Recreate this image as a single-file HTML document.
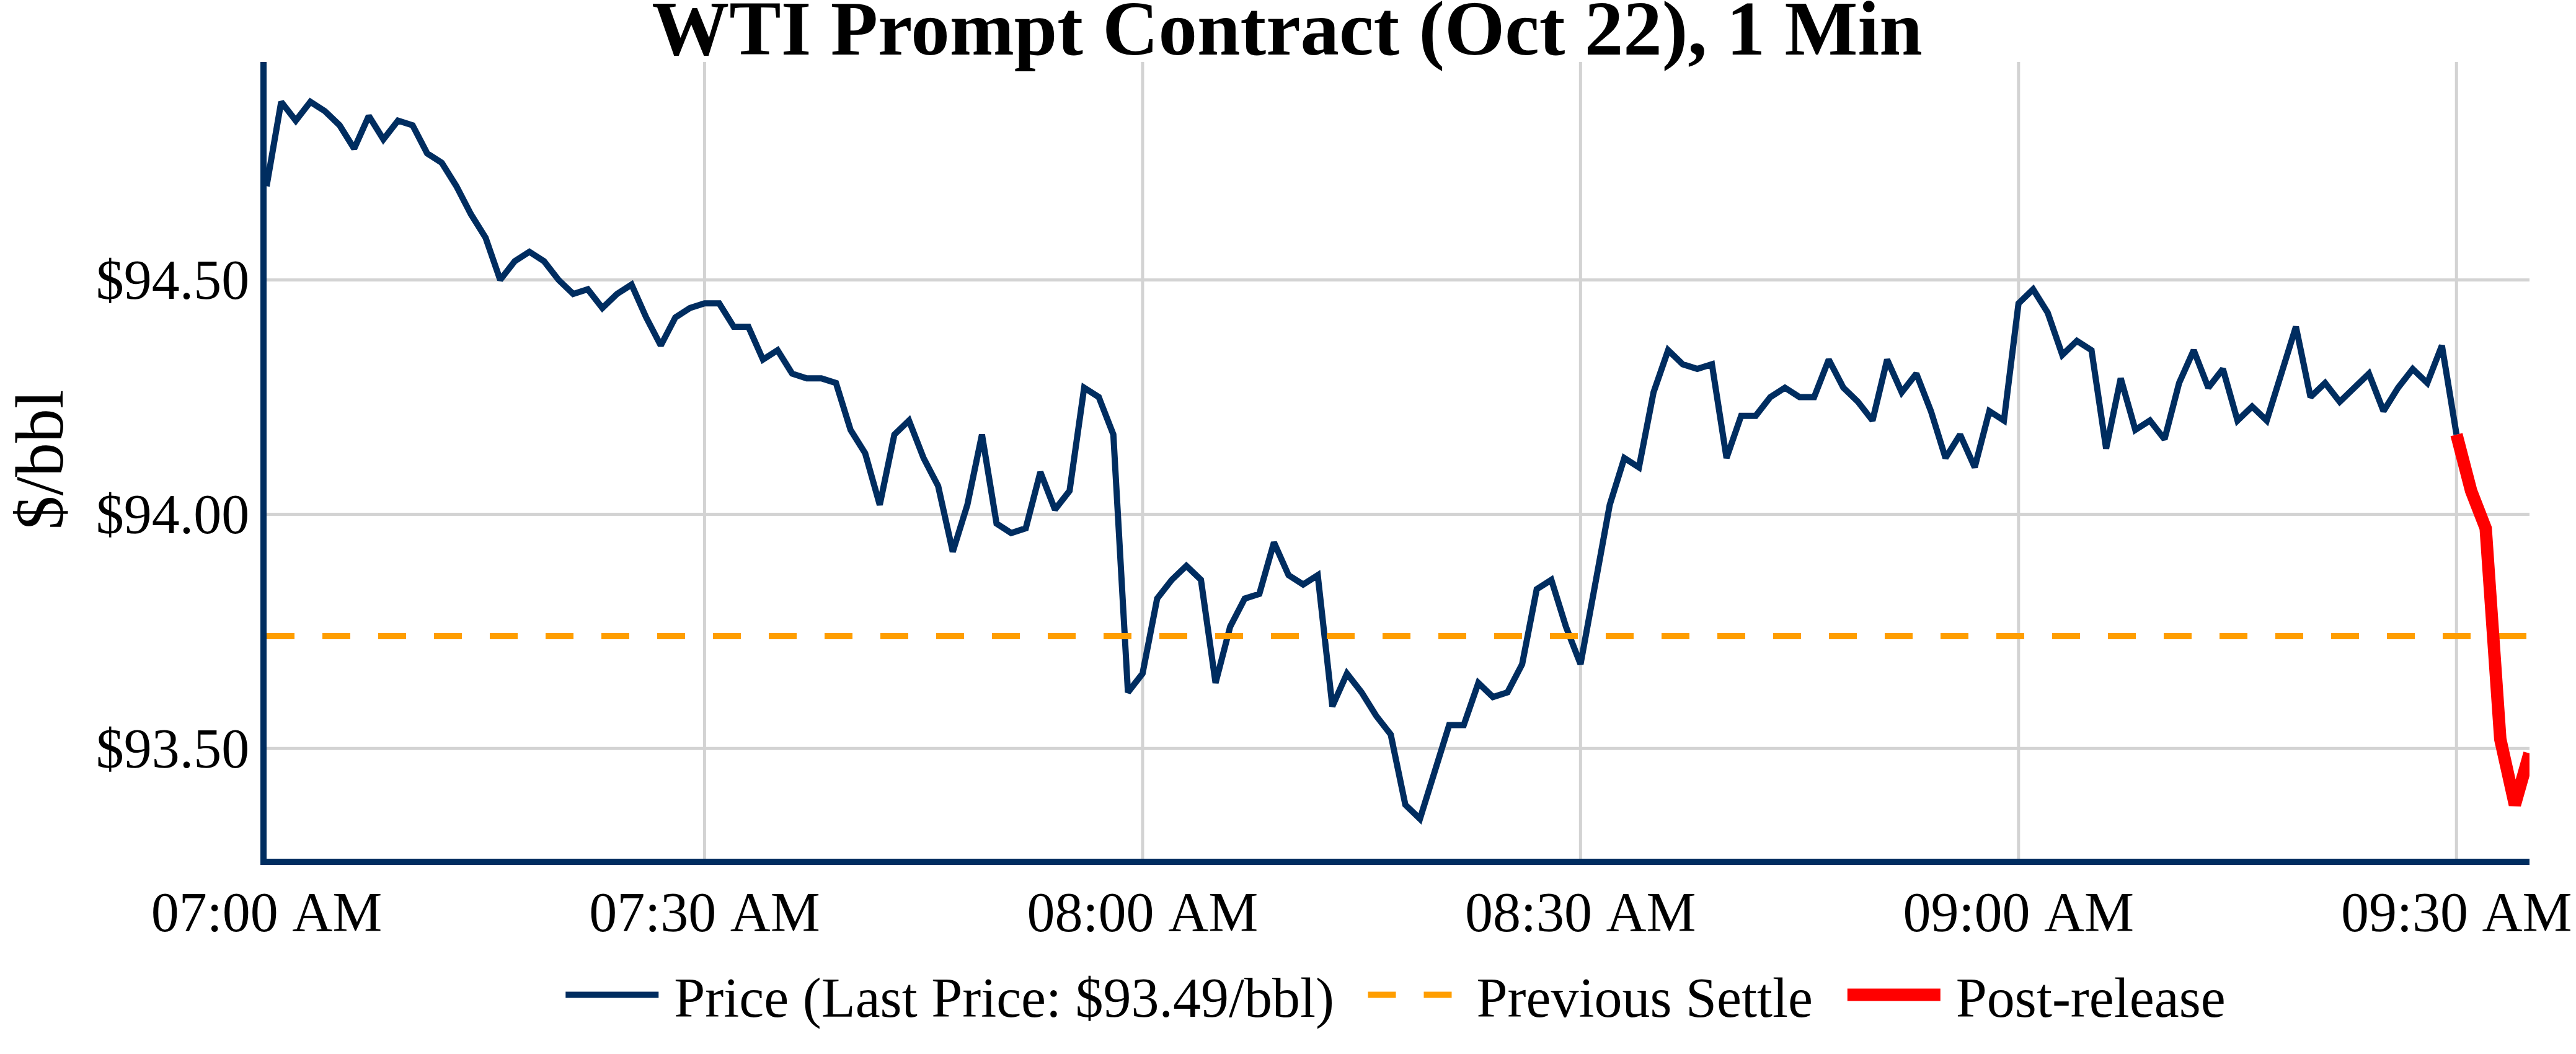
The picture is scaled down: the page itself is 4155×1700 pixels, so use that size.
<!DOCTYPE html>
<html><head><meta charset="utf-8"><style>
html,body{margin:0;padding:0;background:#fff;}
svg{display:block;}
text{font-family:"Liberation Serif","Times New Roman",serif;fill:#000;}
</style></head><body>
<svg width="4155" height="1700" viewBox="0 0 4155 1700" xmlns="http://www.w3.org/2000/svg">
<rect width="4155" height="1700" fill="#fff"/>
<defs><clipPath id="pc"><rect x="430" y="100" width="3650" height="1285"/></clipPath></defs>
<g stroke="#D3D3D3" stroke-width="5" fill="none">
<line x1="1136.45" y1="100" x2="1136.45" y2="1385"/>
<line x1="1842.90" y1="100" x2="1842.90" y2="1385"/>
<line x1="2549.35" y1="100" x2="2549.35" y2="1385"/>
<line x1="3255.81" y1="100" x2="3255.81" y2="1385"/>
<line x1="3962.26" y1="100" x2="3962.26" y2="1385"/>
<line x1="430" y1="451.48" x2="4080" y2="451.48"/>
<line x1="430" y1="829.42" x2="4080" y2="829.42"/>
<line x1="430" y1="1207.36" x2="4080" y2="1207.36"/>
</g>
<g clip-path="url(#pc)" fill="none">
<polyline points="430.00,300.31 453.55,164.25 477.10,194.49 500.65,164.25 524.19,179.37 547.74,202.04 571.29,239.84 594.84,186.93 618.39,224.72 641.94,194.49 665.48,202.04 689.03,247.40 712.58,262.51 736.13,300.31 759.68,345.66 783.23,383.46 806.77,451.48 830.32,421.25 853.87,406.13 877.42,421.25 900.97,451.48 924.52,474.16 948.06,466.60 971.61,496.84 995.16,474.16 1018.71,459.04 1042.26,511.95 1065.81,557.31 1089.35,511.95 1112.90,496.84 1136.45,489.28 1160.00,489.28 1183.55,527.07 1207.10,527.07 1230.65,579.98 1254.19,564.87 1277.74,602.66 1301.29,610.22 1324.84,610.22 1348.39,617.78 1371.94,693.37 1395.48,731.16 1419.03,814.31 1442.58,700.92 1466.13,678.25 1489.68,738.72 1513.23,784.07 1536.77,889.89 1560.32,814.31 1583.87,700.92 1607.42,844.54 1630.97,859.66 1654.52,852.10 1678.06,761.40 1701.61,821.87 1725.16,791.63 1748.71,625.34 1772.26,640.45 1795.81,700.92 1819.35,1116.66 1842.90,1086.42 1866.45,965.48 1890.00,935.25 1913.55,912.57 1937.10,935.25 1960.65,1101.54 1984.19,1010.84 2007.74,965.48 2031.29,957.92 2054.84,874.78 2078.39,927.69 2101.94,942.81 2125.48,927.69 2149.03,1139.34 2172.58,1086.42 2196.13,1116.66 2219.68,1154.45 2243.23,1184.69 2266.77,1298.07 2290.32,1320.75 2313.87,1245.16 2337.42,1169.57 2360.97,1169.57 2384.52,1101.54 2408.06,1124.22 2431.61,1116.66 2455.16,1071.31 2478.71,950.37 2502.26,935.25 2525.81,1010.84 2549.35,1071.31 2572.90,942.81 2596.45,814.31 2620.00,738.72 2643.55,753.84 2667.10,632.90 2690.65,564.87 2714.19,587.54 2737.74,595.10 2761.29,587.54 2784.84,738.72 2808.39,670.69 2831.94,670.69 2855.48,640.45 2879.03,625.34 2902.58,640.45 2926.13,640.45 2949.68,579.98 2973.23,625.34 2996.77,648.01 3020.32,678.25 3043.87,579.98 3067.42,632.90 3090.97,602.66 3114.52,663.13 3138.06,738.72 3161.61,700.92 3185.16,753.84 3208.71,663.13 3232.26,678.25 3255.81,489.28 3279.35,466.60 3302.90,504.40 3326.45,572.43 3350.00,549.75 3373.55,564.87 3397.10,723.60 3420.65,610.22 3444.19,693.37 3467.74,678.25 3491.29,708.48 3514.84,617.78 3538.39,564.87 3561.94,625.34 3585.48,595.10 3609.03,678.25 3632.58,655.57 3656.13,678.25 3679.68,602.66 3703.23,527.07 3726.77,640.45 3750.32,617.78 3773.87,648.01 3797.42,625.34 3820.97,602.66 3844.52,663.13 3868.06,625.34 3891.61,595.10 3915.16,617.78 3938.71,557.31 3962.26,700.92" stroke="#002D60" stroke-width="10" stroke-miterlimit="2"/>
<line x1="430" y1="1025.95" x2="4080" y2="1025.95" stroke="#FF9E00" stroke-width="10" stroke-dasharray="45,45"/>
<polyline points="3962.26,700.92 3985.81,791.63 4009.35,852.10 4032.90,1192.25 4056.45,1298.07 4080.00,1214.92" stroke="#FF0000" stroke-width="20" stroke-miterlimit="2"/>
</g>
<path d="M425,100V1395" stroke="#002D60" stroke-width="10" fill="none"/>
<path d="M420,1390H4080" stroke="#002D60" stroke-width="10" fill="none"/>
<g font-size="90">
<text x="430.00" y="1502" text-anchor="middle" word-spacing="5">07:00 AM</text>
<text x="1136.45" y="1502" text-anchor="middle" word-spacing="5">07:30 AM</text>
<text x="1842.90" y="1502" text-anchor="middle" word-spacing="5">08:00 AM</text>
<text x="2549.35" y="1502" text-anchor="middle" word-spacing="5">08:30 AM</text>
<text x="3255.81" y="1502" text-anchor="middle" word-spacing="5">09:00 AM</text>
<text x="3962.26" y="1502" text-anchor="middle" word-spacing="5">09:30 AM</text>
<text x="402.3" y="481.98" text-anchor="end">$94.50</text>
<text x="402.3" y="859.92" text-anchor="end">$94.00</text>
<text x="402.3" y="1237.86" text-anchor="end">$93.50</text>
</g>
<text x="100.5" y="741.5" font-size="110" text-anchor="middle" transform="rotate(-90 100.5 741.5)">$/bbl</text>
<text x="2076.1" y="87.6" font-size="125" font-weight="bold" text-anchor="middle">WTI Prompt Contract (Oct 22), 1 Min</text>
<g>
<path d="M912.3,1604.6h150" stroke="#002D60" stroke-width="10" stroke-miterlimit="2"/>
<text x="1087.3" y="1640" font-size="90">Price (Last Price: $93.49/bbl)</text>
<path d="M2206.5,1604.6h150" stroke="#FF9E00" stroke-width="10" stroke-dasharray="45,45"/>
<text x="2381.5" y="1640" font-size="90">Previous Settle</text>
<path d="M2979.8,1604.6h150" stroke="#FF0000" stroke-width="20" stroke-miterlimit="2"/>
<text x="3154.8" y="1640" font-size="90">Post-release</text>
</g>
</svg>
</body></html>
